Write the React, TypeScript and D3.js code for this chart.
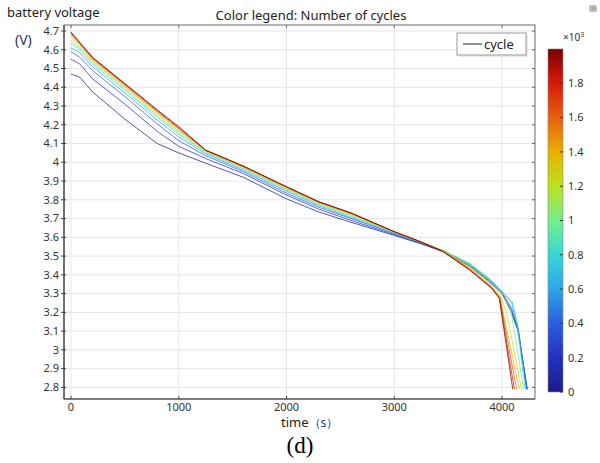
import React from "react";
import * as d3 from "d3";

// cycle numbers for each curve
const cycleCounts = [0, 200, 400, 600, 800, 1000, 1200, 1400, 1600, 1800, 2000];

// [time (s), voltage (V)] for each cycle
const cycle0: [number, number][] = [[0,4.47],[80,4.455],[200,4.375],[500,4.23],[800,4.10],[1000,4.05],[1250,3.995],[1600,3.92],[2000,3.805],[2300,3.735],[2600,3.68],[3000,3.61],[3250,3.565],[3450,3.525],[3700,3.445],[3900,3.355],[4000,3.30],[4080,3.21],[4150,3.10],[4235,2.79]];
const cycle200: [number, number][] = [[0,4.55],[80,4.525],[200,4.445],[500,4.31],[800,4.165],[1000,4.085],[1250,4.02],[1600,3.94],[2000,3.825],[2300,3.75],[2600,3.69],[3000,3.615],[3250,3.567],[3450,3.525],[3700,3.45],[3900,3.36],[3995,3.305],[4085,3.215],[4150,3.10],[4232,2.79]];
const cycle400: [number, number][] = [[0,4.59],[80,4.56],[200,4.49],[500,4.35],[800,4.205],[1000,4.115],[1250,4.035],[1600,3.95],[2000,3.835],[2300,3.76],[2600,3.70],[3000,3.62],[3250,3.57],[3450,3.528],[3700,3.455],[3900,3.365],[3995,3.31],[4090,3.22],[4150,3.11],[4230,2.79]];
const cycle600: [number, number][] = [[0,4.61],[80,4.585],[200,4.51],[500,4.37],[800,4.225],[1000,4.135],[1250,4.045],[1600,3.958],[2000,3.845],[2300,3.768],[2600,3.705],[3000,3.622],[3250,3.572],[3450,3.53],[3700,3.46],[3900,3.37],[3995,3.315],[4095,3.255],[4150,3.12],[4225,2.79]];
const cycle800: [number, number][] = [[0,4.635],[80,4.60],[200,4.525],[500,4.385],[800,4.24],[1000,4.15],[1250,4.052],[1600,3.965],[2000,3.852],[2300,3.775],[2600,3.712],[3000,3.625],[3250,3.573],[3450,3.53],[3700,3.46],[3900,3.368],[3992,3.31],[4090,3.25],[4140,3.13],[4215,2.79]];
const cycle1000: [number, number][] = [[0,4.65],[80,4.61],[200,4.535],[500,4.395],[800,4.25],[1000,4.16],[1250,4.057],[1600,3.97],[2000,3.857],[2300,3.78],[2600,3.718],[3000,3.627],[3250,3.574],[3450,3.53],[3700,3.455],[3900,3.36],[3990,3.305],[4080,3.22],[4200,2.79]];
const cycle1200: [number, number][] = [[0,4.665],[80,4.62],[200,4.542],[500,4.402],[800,4.258],[1000,4.168],[1250,4.06],[1600,3.973],[2000,3.861],[2300,3.783],[2600,3.722],[3000,3.628],[3250,3.575],[3450,3.528],[3700,3.445],[3900,3.35],[3985,3.295],[4050,3.18],[4180,2.79]];
const cycle1400: [number, number][] = [[0,4.675],[80,4.628],[200,4.548],[500,4.408],[800,4.265],[1000,4.175],[1250,4.062],[1600,3.976],[2000,3.864],[2300,3.786],[2600,3.725],[3000,3.629],[3250,3.575],[3450,3.527],[3700,3.438],[3900,3.342],[3980,3.285],[4160,2.79]];
const cycle1600: [number, number][] = [[0,4.685],[80,4.634],[200,4.553],[500,4.413],[800,4.271],[1000,4.18],[1250,4.063],[1600,3.978],[2000,3.867],[2300,3.788],[2600,3.728],[3000,3.63],[3250,3.575],[3450,3.526],[3700,3.432],[3900,3.336],[3978,3.28],[4135,2.79]];
const cycle1800: [number, number][] = [[0,4.69],[80,4.637],[200,4.557],[500,4.417],[800,4.275],[1000,4.185],[1250,4.064],[1600,3.979],[2000,3.869],[2300,3.789],[2600,3.729],[3000,3.63],[3250,3.575],[3450,3.525],[3700,3.428],[3900,3.333],[3976,3.277],[4115,2.79]];
const cycle2000: [number, number][] = [[0,4.695],[80,4.64],[200,4.56],[500,4.42],[800,4.28],[1000,4.19],[1250,4.065],[1600,3.98],[2000,3.87],[2300,3.79],[2600,3.73],[3000,3.63],[3250,3.575],[3450,3.525],[3700,3.425],[3900,3.33],[3975,3.275],[4100,2.79]];

const seriesList = [cycle0, cycle200, cycle400, cycle600, cycle800, cycle1000, cycle1200, cycle1400, cycle1600, cycle1800, cycle2000];

// colour table (values in ×10³ cycles)
const colorStops = [0, 0.2, 0.4, 0.6, 0.8, 1.0, 1.2, 1.4, 1.6, 1.8, 2.0];
const colorValues = ["#1c1c8a", "#2430c0", "#2c5ee0", "#2ea6e8", "#36d8d6", "#74ee8c", "#bce21e", "#e8b000", "#e86010", "#d81a0a", "#7c0000"];

const xTicks = [0, 1000, 2000, 3000, 4000];
const yTicks = [2.8, 2.9, 3, 3.1, 3.2, 3.3, 3.4, 3.5, 3.6, 3.7, 3.8, 3.9, 4, 4.1, 4.2, 4.3, 4.4, 4.5, 4.6, 4.7];
const cbTicks = [0, 0.2, 0.4, 0.6, 0.8, 1, 1.2, 1.4, 1.6, 1.8];

const W = 600;
const H = 463;
const L = 64, R = 535, T = 25, B = 399;
const font = "'Noto Sans', 'Open Sans', sans-serif";

export default function App() {
  const x = d3.scaleLinear().domain([-65, 4306]).range([L, R]);
  const y = d3.scaleLinear().domain([2.738, 4.732]).range([B, T]);
  const color = d3.scaleLinear<string>().domain(colorStops).range(colorValues);
  const cb = d3.scaleLinear().domain([0, 2]).range([392, 49]);
  const line = d3.line<[number, number]>().x(d => x(d[0])).y(d => y(d[1]));

  const fmt = (v: number) => String(+v.toFixed(1));

  return (
    <svg width={W} height={H} style={{ position: "absolute", left: 0, top: 0, background: "#fff" }}>
      <defs>
        <linearGradient id="cbg" x1="0" y1="1" x2="0" y2="0">
          {colorStops.map((s, i) => (
            <stop key={i} offset={`${(s / 2) * 100}%`} stopColor={colorValues[i]} />
          ))}
        </linearGradient>
        <clipPath id="plotClip">
          <rect x={L} y={T} width={R - L} height={B - T} />
        </clipPath>
      </defs>
      <rect x={0} y={0} width={W} height={H} fill="#fff" />

      {/* grid */}
      {yTicks.map(t => (
        <line key={"gy" + t} x1={L} x2={R} y1={y(t)} y2={y(t)} stroke="#e6e6e6" strokeWidth={1} />
      ))}
      {xTicks.map(t => (
        <line key={"gx" + t} x1={x(t)} x2={x(t)} y1={T} y2={B} stroke="#e6e6e6" strokeWidth={1} />
      ))}

      {/* curves */}
      <g clipPath="url(#plotClip)">
        {seriesList.map((s, i) => (
          <path key={i} d={line(s) || ""} fill="none" stroke={color(cycleCounts[i] / 1000)} strokeWidth={1} strokeOpacity={0.75} />
        ))}
      </g>

      {/* frame */}
      <rect x={L} y={T} width={R - L} height={B - T} fill="none" stroke="#6a6a6a" strokeWidth={1} />
      <line x1={L} x2={L} y1={T} y2={B} stroke="#444" strokeWidth={1.2} />
      <line x1={L} x2={R} y1={B} y2={B} stroke="#444" strokeWidth={1.2} />

      {/* ticks */}
      {yTicks.map(t => (
        <g key={"ty" + t}>
          <line x1={L - 3} x2={L + 2} y1={y(t)} y2={y(t)} stroke="#444" />
          <line x1={R - 3} x2={R} y1={y(t)} y2={y(t)} stroke="#666" />
          <text x={L - 5} y={y(t)} dy="0.35em" textAnchor="end" fontFamily={font} fontSize={11} fill="#333">{fmt(t)}</text>
        </g>
      ))}
      {xTicks.map(t => (
        <g key={"tx" + t}>
          <line x1={x(t)} x2={x(t)} y1={B} y2={B - 3} stroke="#444" />
          <line x1={x(t)} x2={x(t)} y1={T} y2={T + 3} stroke="#666" />
          <text x={x(t)} y={B + 12} textAnchor="middle" fontFamily={font} fontSize={11} fill="#333">{t}</text>
        </g>
      ))}

      {/* titles */}
      <text x={7} y={17} fontFamily={font} fontSize={13} fill="#222">battery voltage</text>
      <text x={15} y={45} fontFamily={font} fontSize={14} fill="#2a3560">(V)</text>
      <text x={311} y={20} textAnchor="middle" fontFamily={font} fontSize={13} fill="#222">Color legend: Number of cycles</text>
      <text x={281} y={427} fontFamily={font} fontSize={13} fill="#222">
        time<tspan fill="#1e3c8c" fontSize={12}>（s）</tspan>
      </text>
      <text x={300} y={453} textAnchor="middle" fontFamily="'Liberation Serif', 'Times New Roman', serif" fontSize={23} fill="#000">(d)</text>

      {/* legend */}
      <rect x={459} y={35} width={69} height={22} fill="#ddd" opacity={0.6} />
      <rect x={457} y={33} width={69} height={22} fill="#fff" stroke="#999" strokeWidth={1} />
      <line x1={463} x2={482} y1={44} y2={44} stroke="#444" strokeWidth={1.2} />
      <text x={484} y={49} fontFamily={font} fontSize={13} fill="#222">cycle</text>

      {/* colorbar */}
      <rect x={548} y={49} width={15} height={343} fill="url(#cbg)" stroke="#888" strokeWidth={0.6} />
      {cbTicks.map(t => (
        <g key={"cb" + t}>
          <line x1={560} x2={563} y1={cb(t)} y2={cb(t)} stroke="#333" />
          <text x={568} y={cb(t)} dy="0.35em" fontFamily={font} fontSize={11} fill="#333">{fmt(t)}</text>
        </g>
      ))}
      <text x={563} y={41} fontFamily={font} fontSize={10} fill="#333">×10<tspan dy={-4} fontSize={7}>3</tspan></text>

      {/* small icon top-right */}
      <rect x={589} y={5} width={8} height={7} rx={2} fill="#7a8fb0" opacity={0.6} />
      <rect x={592} y={7} width={3} height={3} fill="#e0a030" opacity={0.7} />
    </svg>
  );
}
